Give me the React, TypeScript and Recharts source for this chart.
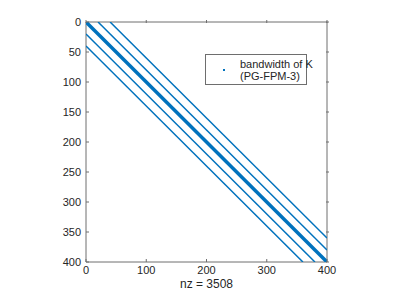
import React from 'react';
import {
  ComposedChart,
  Scatter,
  XAxis,
  YAxis,
} from 'recharts';

// spy(K) of a 400x400 banded matrix
const matrixSize = 400;
const bandOffsets = [0, 20, 40, -20, -40];
const nonZeros = 3508;
const xTicks = [0, 100, 200, 300, 400];
const yTicks = [0, 50, 100, 150, 200, 250, 300, 350, 400];

const BLUE = '#0072BD';
const AXIS = '#6e6e6e';
const TEXT = '#262626';
const FONT = '"Liberation Sans", Arial, sans-serif';

// endpoints of one diagonal (column = row + offset)
const diagonal = (k: number) =>
  k >= 0
    ? [
        { col: k, row: 0 },
        { col: matrixSize, row: matrixSize - k },
      ]
    : [
        { col: 0, row: -k },
        { col: matrixSize + k, row: matrixSize },
      ];

const NoDot = () => <g />;

const BottomTick = (props: any) => {
  const { x, y, payload } = props;
  return (
    <g>
      <line x1={x} y1={y - 4} x2={x} y2={y - 7} stroke={AXIS} />
      <text x={x} y={y} dy="0.71em" textAnchor="middle" fill={TEXT} fontSize={11} fontFamily={FONT}>
        {payload.value}
      </text>
    </g>
  );
};

const LeftTick = (props: any) => {
  const { x, y, payload } = props;
  return (
    <g>
      <line x1={x + 5} y1={y} x2={x + 8} y2={y} stroke={AXIS} />
      <text x={x} y={y} dy="0.35em" textAnchor="end" fill={TEXT} fontSize={11} fontFamily={FONT}>
        {payload.value}
      </text>
    </g>
  );
};

const TopTick = (props: any) => {
  const { x, y } = props;
  return <line x1={x} y1={y} x2={x} y2={y + 3} stroke={AXIS} />;
};

const RightTick = (props: any) => {
  const { x, y } = props;
  return <line x1={x} y1={y} x2={x - 3} y2={y} stroke={AXIS} />;
};

const LegendBox = () => (
  <div
    style={{
      position: 'absolute',
      left: 205,
      top: 54,
      width: 100,
      height: 29,
      background: '#fff',
      border: `1px solid ${AXIS}`,
      fontFamily: FONT,
      fontSize: 11,
      color: TEXT,
      lineHeight: '12px',
    }}
  >
    <div
      style={{
        position: 'absolute',
        left: 17,
        top: 14,
        width: 2,
        height: 2,
        background: BLUE,
      }}
    />
    <div style={{ position: 'absolute', left: 34, top: 3, whiteSpace: 'nowrap' }}>
      bandwidth of K
      <br />
      (PG-FPM-3)
    </div>
  </div>
);

export default function App() {
  return (
    <div style={{ position: 'absolute', left: 0, top: 0, width: 399, height: 299, background: '#fff' }}>
      <ComposedChart
        width={399}
        height={299}
        margin={{ top: 21, right: 71, bottom: 0, left: 0 }}
      >
        <XAxis
          xAxisId="bottom"
          dataKey="col"
          type="number"
          domain={[0, matrixSize]}
          ticks={xTicks}
          height={37}
          stroke={AXIS}
          tickLine={false}
          tickSize={0}
          tickMargin={4}
          tick={<BottomTick />}
          allowDataOverflow
          label={{
            value: `nz = ${nonZeros}`,
            position: 'insideBottom',
            offset: 11,
            fill: TEXT,
            fontSize: 12,
            fontFamily: FONT,
          }}
        />
        <XAxis
          xAxisId="top"
          dataKey="col"
          type="number"
          orientation="top"
          domain={[0, matrixSize]}
          ticks={xTicks}
          height={1}
          stroke={AXIS}
          tickLine={false}
          tickSize={0}
          tick={<TopTick />}
          allowDataOverflow
        />
        <YAxis
          yAxisId="left"
          dataKey="row"
          type="number"
          reversed
          domain={[0, matrixSize]}
          ticks={yTicks}
          width={86}
          stroke={AXIS}
          tickLine={false}
          tickSize={0}
          tickMargin={5}
          tick={<LeftTick />}
          allowDataOverflow
        />
        <YAxis
          yAxisId="right"
          dataKey="row"
          type="number"
          orientation="right"
          reversed
          domain={[0, matrixSize]}
          ticks={yTicks}
          width={1}
          stroke={AXIS}
          tickLine={false}
          tickSize={0}
          tick={<RightTick />}
          allowDataOverflow
        />
        {/* invisible series so the top/right box axes are drawn */}
        <Scatter
          data={diagonal(0)}
          xAxisId="top"
          yAxisId="right"
          shape={<NoDot />}
          isAnimationActive={false}
        />
        {bandOffsets.map((k) => (
          <Scatter
            key={k}
            data={diagonal(k)}
            xAxisId="bottom"
            yAxisId="left"
            line={{ stroke: BLUE, strokeWidth: k === 0 ? 3.5 : 1.5 }}
            shape={<NoDot />}
            isAnimationActive={false}
          />
        ))}
      </ComposedChart>
      <LegendBox />
    </div>
  );
}
